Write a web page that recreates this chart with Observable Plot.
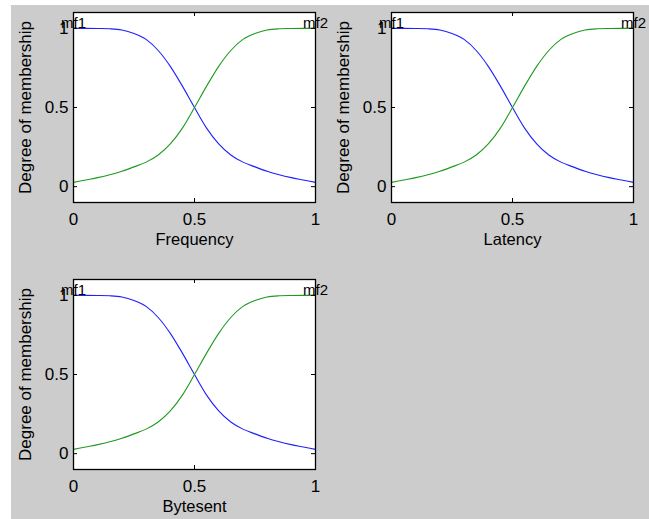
<!DOCTYPE html>
<html>
<head>
<meta charset="utf-8">
<script src="https://cdn.jsdelivr.net/npm/d3@7"></script>
<script src="https://cdn.jsdelivr.net/npm/@observablehq/plot@0.6"></script>
<style>
  html, body { margin: 0; padding: 0; background: #ffffff; }
  #fig { position: relative; width: 649px; height: 519px; overflow: hidden; background: #ffffff; }
  #bg { position: absolute; left: 11px; top: 5px; width: 638px; height: 514px; background: #cccccc; }
  .panel { position: absolute; }
</style>
</head>
<body>
<div id="fig"><div id="bg"></div></div>
<script>
// ---- data ----
const inputNames = ["Frequency", "Latency", "Bytesent"];
const yLabel = "Degree of membership";
const mfNames = ["mf1", "mf2"];
const xValues = [0, 0.05, 0.1, 0.15, 0.2, 0.25, 0.3, 0.35, 0.4, 0.45, 0.5,
                 0.55, 0.6, 0.65, 0.7, 0.75, 0.8, 0.85, 0.9, 0.95, 1];
const mf1Values = [1.0, 1.0, 0.999, 0.997, 0.99, 0.968, 0.93, 0.86, 0.76, 0.635, 0.5,
                   0.37, 0.27, 0.2, 0.155, 0.125, 0.097, 0.075, 0.057, 0.042, 0.027];
const mf2Values = [0.027, 0.042, 0.057, 0.075, 0.097, 0.125, 0.155, 0.2, 0.27, 0.37, 0.5,
                   0.635, 0.76, 0.86, 0.93, 0.968, 0.99, 0.997, 0.999, 1.0, 1.0];
const xTicks = [0, 0.5, 1];
const yTicks = [0, 0.5, 1];
const xDomain = [0, 1];
const yDomain = [-0.1, 1.1];

const mfColors = ["#1f1fff", "#1f9a1f"];
const series = [mf1Values, mf2Values];

const fig = document.getElementById("fig");
const fmt = d => String(d);

function panel(name, left, top, height, mb) {
  const W = 330, ml = 73, mr = 15, mt = 12;
  const ph = height - mt - mb, pw = W - ml - mr;
  const tl = 4;
  const marks = [
    Plot.frame({fill: "white"}),
    ...series.map((vals, i) =>
      Plot.line(xValues.map((x, j) => ({x, y: vals[j]})),
        {x: "x", y: "y", stroke: mfColors[i], strokeWidth: 1.1, curve: "monotone-x"})),
    Plot.frame({stroke: "black", strokeWidth: 1.3}),
    // inward ticks on all four sides
    Plot.tickX(xTicks, {x: d => d, stroke: "black", insetTop: ph - tl}),
    Plot.tickX(xTicks, {x: d => d, stroke: "black", insetBottom: ph - tl}),
    Plot.tickY(yTicks, {y: d => d, stroke: "black", insetRight: pw - tl}),
    Plot.tickY(yTicks, {y: d => d, stroke: "black", insetLeft: pw - tl}),
    Plot.axisX(xTicks, {tickSize: 0, tickPadding: 10, fontSize: 17, tickFormat: fmt, label: null}),
    Plot.axisY(yTicks, {tickSize: 0, tickPadding: 5, fontSize: 17, tickFormat: fmt,
      label: yLabel, labelAnchor: "center", labelOffset: 55, labelArrow: "none"}),
    Plot.text([name], {frameAnchor: "bottom", dy: 31, lineAnchor: "top", fontSize: 16.5}),
    Plot.text([{x: 0, y: 1, t: mfNames[0]}, {x: 1, y: 1, t: mfNames[1]}],
      {x: "x", y: "y", text: "t", textAnchor: "middle", lineAnchor: "bottom", fontSize: 15})
  ];
  const svg = Plot.plot({
    width: W, height,
    marginLeft: ml, marginRight: mr, marginTop: mt, marginBottom: mb,
    x: {domain: xDomain, axis: null},
    y: {domain: yDomain, axis: null},
    style: {background: "transparent", fontFamily: "'Liberation Sans', Arial, sans-serif", color: "black", overflow: "visible"},
    marks
  });
  svg.classList.add("panel");
  svg.style.left = left + "px";
  svg.style.top = top + "px";
  fig.appendChild(svg);
}

panel(inputNames[0], 0, 0, 262, 60);
panel(inputNames[1], 318, 0, 262, 60);
panel(inputNames[2], 0, 267, 252, 50);
</script>
</body>
</html>
